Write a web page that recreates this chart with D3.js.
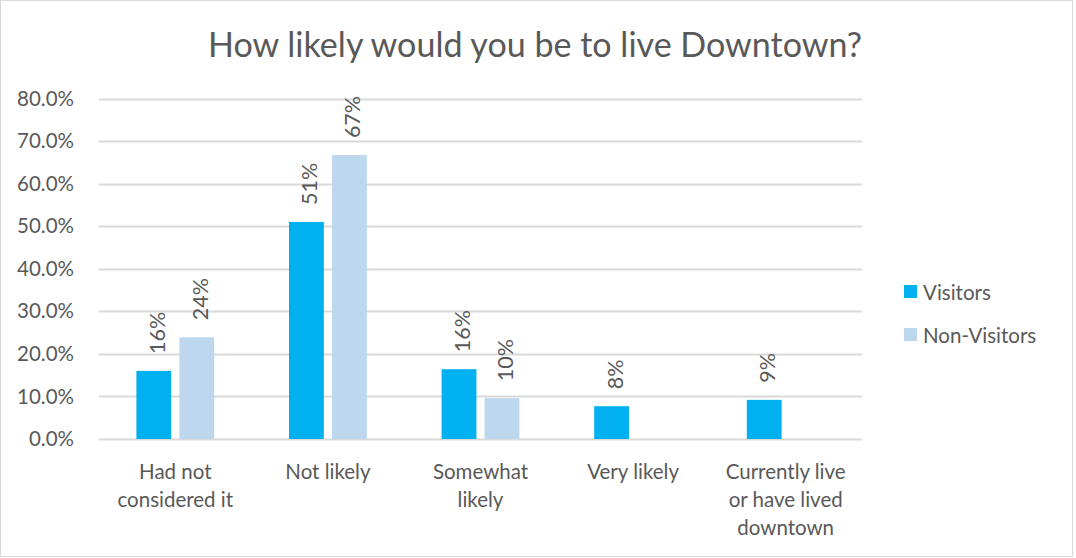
<!DOCTYPE html>
<html>
<head>
<meta charset="utf-8">
<script src="https://cdn.jsdelivr.net/npm/d3@7"></script>
<style>
  html, body { margin: 0; padding: 0; background: #fff; }
  svg { display: block; }
  text { font-family: Lato, "Open Sans", sans-serif; fill: #595959; }
</style>
</head>
<body>
<svg id="chart" width="1076" height="558"></svg>
<script>
// Survey responses
const categories = [
  ["Had not", "considered it"],
  ["Not likely"],
  ["Somewhat", "likely"],
  ["Very likely"],
  ["Currently live", "or have lived", "downtown"]
];
const seriesNames = ["Visitors", "Non-Visitors"];
const visitors    = [16, 51, 16.4, 7.7, 9.2];
const nonVisitors = [23.9, 66.7, 9.6, null, null];
const yTicks = [0, 10, 20, 30, 40, 50, 60, 70, 80];

const colors = { "Visitors": "#00B0F0", "Non-Visitors": "#BDD7EE" };

const svg = d3.select("#chart");
const plot = { left: 99, right: 862, top: 98.5, bottom: 439 };

// outer frame
svg.append("rect")
  .attr("x", 0.5).attr("y", 0.5)
  .attr("width", 1072).attr("height", 556)
  .attr("fill", "#fff").attr("stroke", "#D9D9D9");

const catKeys = categories.map(c => c.join(" "));
const x0 = d3.scaleBand().domain(catKeys).range([plot.left, plot.right]);
const x1 = d3.scaleBand().domain(seriesNames)
  .range([0, x0.bandwidth()]).paddingInner(0.19).paddingOuter(0.87);
const y = d3.scaleLinear().domain([0, 80]).range([plot.bottom, plot.top]);

// gridlines
svg.append("g").selectAll("line").data(yTicks).join("line")
  .attr("x1", plot.left).attr("x2", plot.right)
  .attr("y1", d => Math.round(y(d)) + 0.5).attr("y2", d => Math.round(y(d)) + 0.5)
  .attr("stroke", "#D9D9D9").attr("stroke-width", 2);

// y axis labels
const yAxis = d3.axisLeft(y).tickValues(yTicks)
  .tickFormat(d => d.toFixed(1) + "%").tickSize(0).tickPadding(0);
const gy = svg.append("g").attr("transform", `translate(74,0)`).call(yAxis);
gy.select(".domain").remove();
gy.selectAll("text").attr("font-size", 20.5).style("font-family", "Lato, sans-serif").attr("fill", "#595959");

// bars
const rows = catKeys.map((k, i) => ({
  key: k,
  values: [
    { series: "Visitors", value: visitors[i] },
    { series: "Non-Visitors", value: nonVisitors[i] }
  ].filter(v => v.value != null)
}));

const groups = svg.append("g").selectAll("g").data(rows).join("g")
  .attr("transform", d => `translate(${x0(d.key)},0)`);

groups.selectAll("rect").data(d => d.values).join("rect")
  .attr("x", d => x1(d.series))
  .attr("width", x1.bandwidth())
  .attr("y", d => y(d.value))
  .attr("height", d => y(0) - y(d.value))
  .attr("fill", d => colors[d.series]);

// rotated value labels
groups.selectAll("text.val").data(d => d.values).join("text")
  .attr("class", "val")
  .attr("transform", d => `translate(${x1(d.series) + x1.bandwidth() / 2 + 3},${y(d.value) - 17}) rotate(-90)`)
  .attr("dominant-baseline", "central")
  .attr("text-anchor", "start")
  .attr("font-size", 21.5)
  .text(d => Math.round(d.value) + "%");

// category labels
const catText = svg.append("g").selectAll("text").data(categories).join("text")
  .attr("text-anchor", "middle")
  .attr("font-size", 20.5)
  .attr("x", (d, i) => x0(catKeys[i]) + x0.bandwidth() / 2)
  .attr("y", 479);
catText.selectAll("tspan").data(d => d).join("tspan")
  .attr("x", function () { return d3.select(this.parentNode).attr("x"); })
  .attr("dy", (d, i) => i === 0 ? 0 : 28)
  .text(d => d);

// title
const title = svg.append("text")
  .attr("x", 535).attr("y", 57)
  .attr("text-anchor", "middle")
  .attr("font-size", 26)
  .text("How likely would you be to live Downtown?");
const tl = title.node().getComputedTextLength();
title.attr("font-size", 26 * 654 / tl);

// legend
const legend = svg.append("g").selectAll("g").data(seriesNames).join("g")
  .attr("transform", (d, i) => `translate(904,${285 + i * 43})`);
legend.append("rect").attr("width", 13).attr("height", 13).attr("fill", d => colors[d]);
legend.append("text")
  .attr("x", 19).attr("y", 6.5)
  .attr("dominant-baseline", "central")
  .attr("font-size", 20.5)
  .text(d => d);
</script>
</body>
</html>
